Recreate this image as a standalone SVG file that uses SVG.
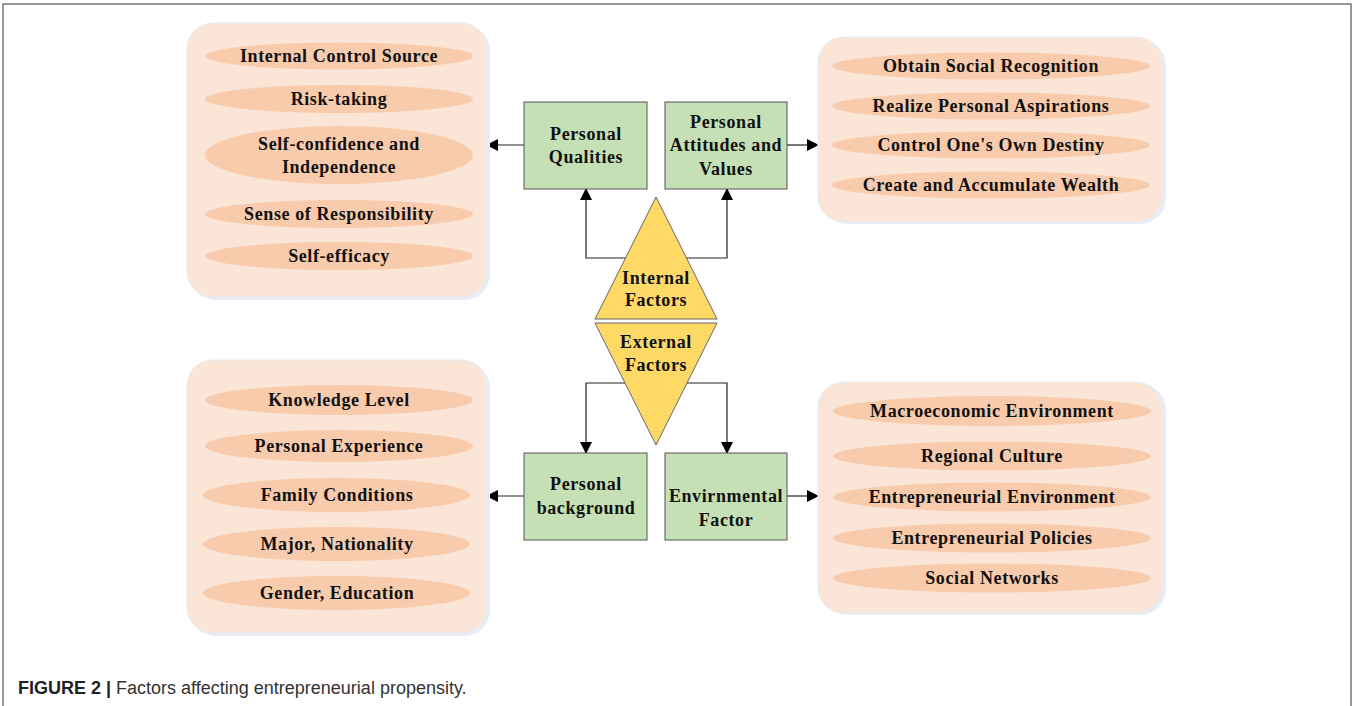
<svg xmlns="http://www.w3.org/2000/svg" width="1357" height="706" viewBox="0 0 1357 706">
<defs>
<style>
.panel{fill:#fbe5d6;stroke:#e6ebf2;stroke-width:1.2}
.shadow{fill:#e8edf5}
.ell{fill:#f8cbad}
.box{fill:#c5e0b4;stroke:#555;stroke-width:1}
.tri{fill:#ffd966;stroke:#666;stroke-width:1}
.t{font-family:"Liberation Serif","Times New Roman",serif;font-weight:bold;font-size:18px;letter-spacing:0.6px;fill:#111;text-anchor:middle}
.c{fill:none;stroke:#222;stroke-width:1.2}
</style>
<marker id="ah" viewBox="0 0 12 12" refX="11" refY="6" markerWidth="12" markerHeight="12" markerUnits="userSpaceOnUse" orient="auto">
<path d="M0,0 L12,6 L0,12 Z" fill="#000"/>
</marker>
</defs>
<rect width="1357" height="706" fill="#fff"/>
<path d="M3,706 V4 H1351 V706" fill="none" stroke="#777" stroke-width="1.5"/>

<g id="connectors">
<line class="c" x1="524" y1="145" x2="487" y2="145" marker-end="url(#ah)"/>
<line class="c" x1="787" y1="145" x2="818" y2="145" marker-end="url(#ah)"/>
<polyline class="c" points="626,258 586,258 586,189" marker-end="url(#ah)"/>
<polyline class="c" points="686,258 727,258 727,189" marker-end="url(#ah)"/>
<polyline class="c" points="625,383 586,383 586,453" marker-end="url(#ah)"/>
<polyline class="c" points="687,383 727,383 727,453" marker-end="url(#ah)"/>
<line class="c" x1="524" y1="496" x2="487" y2="496" marker-end="url(#ah)"/>
<line class="c" x1="787" y1="496" x2="818" y2="496" marker-end="url(#ah)"/>
</g>

<g id="panel-qualities">
<rect class="shadow" x="190" y="25" width="300" height="275" rx="26"/>
<rect class="panel" x="187" y="23" width="300" height="274" rx="26"/>
<ellipse class="ell" cx="339" cy="56" rx="134" ry="13.5"/>
<text class="t" x="339" y="62">Internal Control Source</text>
<ellipse class="ell" cx="339" cy="99" rx="134" ry="14"/>
<text class="t" x="339" y="105">Risk-taking</text>
<ellipse class="ell" cx="339" cy="155" rx="134" ry="29"/>
<text class="t" x="339" y="150">Self-confidence and</text>
<text class="t" x="339" y="173">Independence</text>
<ellipse class="ell" cx="339" cy="214" rx="134" ry="14"/>
<text class="t" x="339" y="220">Sense of Responsibility</text>
<ellipse class="ell" cx="339" cy="256" rx="134" ry="14"/>
<text class="t" x="339" y="262">Self-efficacy</text>
</g>

<g id="panel-attitudes">
<rect class="shadow" x="821" y="39" width="345" height="185" rx="26"/>
<rect class="panel" x="818" y="37" width="344" height="185" rx="26"/>
<ellipse class="ell" cx="991" cy="66" rx="159" ry="13.5"/>
<text class="t" x="991" y="72">Obtain Social Recognition</text>
<ellipse class="ell" cx="991" cy="106" rx="159" ry="13.5"/>
<text class="t" x="991" y="112">Realize Personal Aspirations</text>
<ellipse class="ell" cx="991" cy="145" rx="159" ry="13.5"/>
<text class="t" x="991" y="151">Control One's Own Destiny</text>
<ellipse class="ell" cx="991" cy="185" rx="159" ry="13.5"/>
<text class="t" x="991" y="191">Create and Accumulate Wealth</text>
</g>

<g id="panel-background">
<rect class="shadow" x="190" y="362" width="300" height="274" rx="26"/>
<rect class="panel" x="187" y="360" width="300" height="273" rx="26"/>
<ellipse class="ell" cx="339" cy="400" rx="134" ry="15"/>
<text class="t" x="339" y="406">Knowledge Level</text>
<ellipse class="ell" cx="339" cy="446" rx="134" ry="16"/>
<text class="t" x="339" y="452">Personal Experience</text>
<ellipse class="ell" cx="336.5" cy="495" rx="133.5" ry="17"/>
<text class="t" x="337" y="501">Family Conditions</text>
<ellipse class="ell" cx="336.5" cy="544" rx="133.5" ry="17"/>
<text class="t" x="337" y="550">Major, Nationality</text>
<ellipse class="ell" cx="336.5" cy="593" rx="133.5" ry="17"/>
<text class="t" x="337" y="599">Gender, Education</text>
</g>

<g id="panel-environment">
<rect class="shadow" x="821" y="384" width="345" height="231" rx="26"/>
<rect class="panel" x="818" y="382" width="344" height="231" rx="26"/>
<ellipse class="ell" cx="992" cy="411" rx="159" ry="15"/>
<text class="t" x="992" y="417">Macroeconomic Environment</text>
<ellipse class="ell" cx="992" cy="456" rx="159" ry="14.5"/>
<text class="t" x="992" y="462">Regional Culture</text>
<ellipse class="ell" cx="992" cy="497" rx="159" ry="14.5"/>
<text class="t" x="992" y="503">Entrepreneurial Environment</text>
<ellipse class="ell" cx="992" cy="538" rx="159" ry="14.5"/>
<text class="t" x="992" y="544">Entrepreneurial Policies</text>
<ellipse class="ell" cx="992" cy="578" rx="159" ry="14.5"/>
<text class="t" x="992" y="584">Social Networks</text>
</g>

<g id="node-personal-qualities">
<rect class="box" x="524" y="102" width="123" height="87"/>
<text class="t" x="586" y="140">Personal</text>
<text class="t" x="586" y="163">Qualities</text>
</g>

<g id="node-personal-attitudes">
<rect class="box" x="665" y="102" width="122" height="87"/>
<text class="t" x="726" y="128">Personal</text>
<text class="t" x="726" y="151">Attitudes and</text>
<text class="t" x="726" y="175">Values</text>
</g>

<g id="node-internal-factors">
<polygon class="tri" points="656,197 717,319 595,319"/>
<text class="t" x="656" y="284">Internal</text>
<text class="t" x="656" y="306">Factors</text>
</g>

<g id="node-external-factors">
<polygon class="tri" points="595,323 717,323 656,445"/>
<text class="t" x="656" y="348">External</text>
<text class="t" x="656" y="371">Factors</text>
</g>

<g id="node-personal-background">
<rect class="box" x="524" y="453" width="123" height="87"/>
<text class="t" x="586" y="490">Personal</text>
<text class="t" x="586" y="514">background</text>
</g>

<g id="node-environmental-factor">
<rect class="box" x="665" y="453" width="122" height="87"/>
<text class="t" x="726" y="502">Envirnmental</text>
<text class="t" x="726" y="526">Factor</text>
</g>

<text x="18" y="694" font-family="Liberation Sans, Arial, sans-serif" font-size="18" fill="#333"><tspan font-weight="bold" fill="#222">FIGURE 2 |</tspan> Factors affecting entrepreneurial propensity.</text>
</svg>
